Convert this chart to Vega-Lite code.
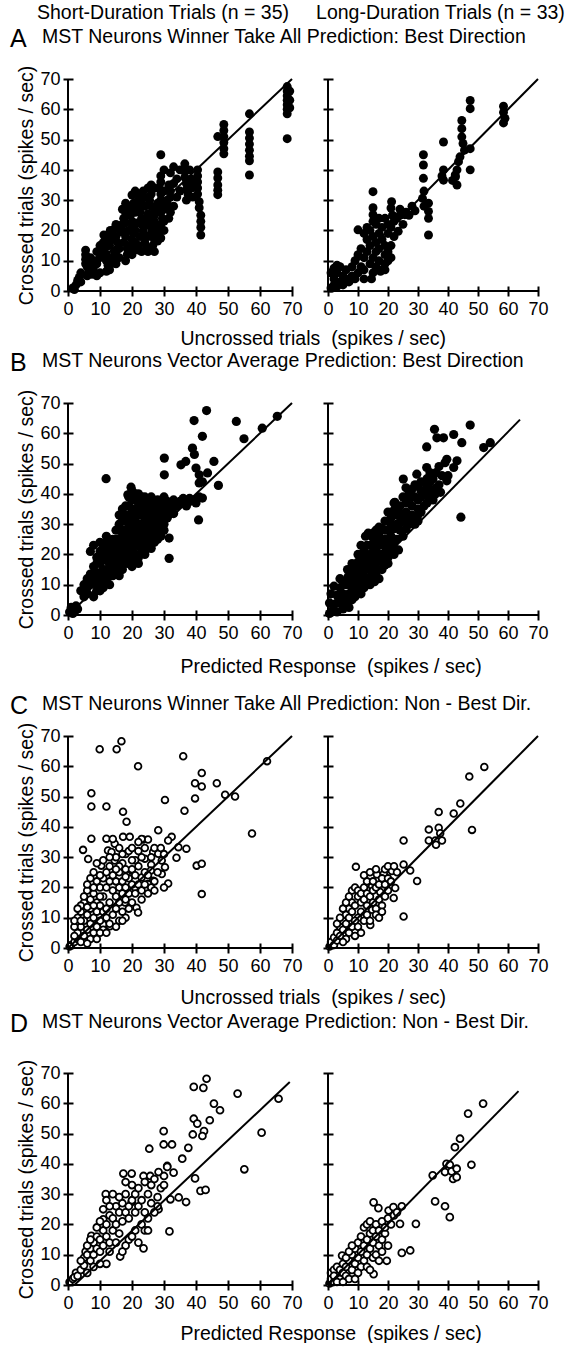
{
"$schema":"https://vega.github.io/schema/vega-lite/v6.json",
"background":"white",
"padding":{"left":10,"top":3,"right":0,"bottom":0},
"config":{
 "font":"Liberation Sans",
 "view":{"stroke":null},
 "axis":{"domain":false,"grid":false,"tickSize":10,"tickWidth":2,"tickColor":"black","tickCount":7,"offset":-5,"labelFontSize":18,"labelColor":"black","labelFlush":false,"labelOverlap":false,"titleFontSize":19.5,"titleFontWeight":"normal","titleColor":"black","labelFont":"Liberation Sans","titleFont":"Liberation Sans"},
 "axisX":{"labelPadding":4,"titlePadding":13},
 "axisY":{"labelPadding":3,"titlePadding":3},
 "title":{"fontSize":25,"fontWeight":"normal","color":"black","anchor":"start","frame":"group","font":"Liberation Sans"}
},
"title":{"text":"Short-Duration Trials (n = 35)\u00a0\u00a0\u00a0\u00a0\u00a0Long-Duration Trials (n = 33)","fontSize":19.5,"anchor":"start","frame":"group","dx":-31,"offset":3},
"datasets":{
"a1":[{"x":1.5,"y":1},{"x":2.5,"y":2},{"x":3,"y":3.5},{"x":3.5,"y":4.5},{"x":4,"y":3},{"x":2,"y":0.5},{"x":5.5,"y":13.5},{"x":5.5,"y":12},{"x":5.5,"y":10.5},{"x":5.5,"y":9},{"x":6,"y":8},{"x":7,"y":11},{"x":7.5,"y":9.5},{"x":8,"y":8},{"x":8,"y":6.5},{"x":7.5,"y":5.5},{"x":8.5,"y":10},{"x":6.5,"y":7},{"x":11.2,"y":18.5},{"x":11,"y":16},{"x":11.5,"y":14},{"x":11,"y":12},{"x":12,"y":10},{"x":12.5,"y":8.5},{"x":13,"y":7},{"x":12,"y":6.5},{"x":13.5,"y":9},{"x":14,"y":11},{"x":14.5,"y":13},{"x":13,"y":15},{"x":13.2,"y":20},{"x":14.5,"y":20.5},{"x":15,"y":18},{"x":15.5,"y":16},{"x":16,"y":14},{"x":15,"y":13},{"x":16.5,"y":19.5},{"x":17.4,"y":24},{"x":17,"y":22},{"x":17,"y":20},{"x":18,"y":18},{"x":17.5,"y":16},{"x":18.5,"y":14},{"x":18.5,"y":12},{"x":19,"y":13},{"x":18,"y":22.5},{"x":20,"y":31.7},{"x":20.5,"y":29},{"x":20,"y":27},{"x":19.5,"y":25},{"x":20,"y":23},{"x":20,"y":21},{"x":20.5,"y":19},{"x":20,"y":17},{"x":19.5,"y":15},{"x":21,"y":14},{"x":22,"y":13.5},{"x":21,"y":16},{"x":23.5,"y":33},{"x":23,"y":30},{"x":24,"y":28},{"x":22.5,"y":26},{"x":23,"y":24},{"x":24,"y":22},{"x":23.5,"y":20},{"x":22.5,"y":18},{"x":24,"y":16},{"x":24.5,"y":14.5},{"x":23,"y":13},{"x":21.5,"y":22.5},{"x":22,"y":27.5},{"x":25.5,"y":30},{"x":26,"y":28},{"x":27,"y":27},{"x":26,"y":25},{"x":27,"y":23},{"x":26,"y":21},{"x":27.5,"y":19},{"x":27,"y":17},{"x":26.5,"y":15},{"x":28,"y":16.5},{"x":25,"y":18},{"x":25,"y":25.5},{"x":29,"y":45},{"x":29,"y":38},{"x":29,"y":36},{"x":28.5,"y":34},{"x":29,"y":32},{"x":29,"y":30},{"x":29.5,"y":28},{"x":29,"y":26},{"x":29.5,"y":24},{"x":29,"y":22},{"x":28,"y":21},{"x":29,"y":17.5},{"x":32,"y":39},{"x":31.5,"y":35},{"x":32,"y":33},{"x":32,"y":31},{"x":31.5,"y":28},{"x":32,"y":26},{"x":31.5,"y":24},{"x":33,"y":35.5},{"x":36.5,"y":42},{"x":36.5,"y":39.5},{"x":36.5,"y":37.5},{"x":37,"y":35.5},{"x":37,"y":33.5},{"x":37.5,"y":32},{"x":38.5,"y":37},{"x":38.5,"y":34},{"x":39,"y":31},{"x":40.5,"y":40},{"x":40.5,"y":38},{"x":40.5,"y":36},{"x":40.5,"y":34},{"x":40.5,"y":32},{"x":41,"y":29.5},{"x":41,"y":27.5},{"x":41.5,"y":25},{"x":41.5,"y":23},{"x":41.5,"y":21},{"x":41.5,"y":18.5},{"x":46.8,"y":51},{"x":46.8,"y":39.3},{"x":46.8,"y":37.3},{"x":46.8,"y":35},{"x":46.8,"y":33.3},{"x":46.8,"y":31.8},{"x":48.7,"y":55},{"x":48.7,"y":53},{"x":48.7,"y":51},{"x":48.7,"y":49},{"x":48.7,"y":47},{"x":48.7,"y":45.3},{"x":56.7,"y":58.5},{"x":56.7,"y":52.5},{"x":56.7,"y":50.5},{"x":56.7,"y":48.5},{"x":56.7,"y":46.5},{"x":56.7,"y":44.5},{"x":56.7,"y":43},{"x":56.7,"y":38.3},{"x":68.5,"y":67.5},{"x":68.5,"y":66},{"x":68.5,"y":64.5},{"x":68.5,"y":63},{"x":68.5,"y":61.5},{"x":68.5,"y":60},{"x":68.5,"y":58.5},{"x":68.5,"y":50.3},{"x":69.3,"y":66},{"x":69.3,"y":63},{"x":69.3,"y":60.5},{"x":9,"y":9},{"x":10,"y":11},{"x":10,"y":13},{"x":12,"y":16},{"x":14,"y":17},{"x":16,"y":21},{"x":18,"y":26},{"x":19,"y":28},{"x":21,"y":26},{"x":22,"y":30},{"x":24,"y":31},{"x":26,"y":32},{"x":27,"y":34},{"x":28,"y":29},{"x":30,"y":27},{"x":30,"y":33},{"x":31,"y":30},{"x":33,"y":28},{"x":34,"y":31},{"x":35,"y":33},{"x":34,"y":37},{"x":35,"y":40},{"x":38,"y":40},{"x":39,"y":35},{"x":16,"y":11},{"x":18,"y":10},{"x":20,"y":12},{"x":22,"y":15},{"x":24,"y":18},{"x":26,"y":19},{"x":28,"y":19},{"x":30,"y":20},{"x":30,"y":23},{"x":27,"y":13},{"x":25,"y":13},{"x":15,"y":9},{"x":10,"y":6},{"x":9,"y":5},{"x":6,"y":5},{"x":4,"y":6},{"x":19,"y":20},{"x":21,"y":20},{"x":23,"y":22},{"x":25,"y":23},{"x":27,"y":25},{"x":28,"y":27},{"x":17,"y":27},{"x":18,"y":29},{"x":21,"y":33},{"x":22,"y":32},{"x":25,"y":34},{"x":26,"y":35},{"x":30,"y":40},{"x":33,"y":41},{"x":37,"y":30},{"x":15,"y":22},{"x":13,"y":18},{"x":12,"y":12},{"x":9,"y":13},{"x":10,"y":15}],
"a2":[{"x":47.4,"y":62.9},{"x":47.4,"y":60.2},{"x":58.5,"y":61},{"x":58.5,"y":59},{"x":59,"y":57},{"x":58.5,"y":55.5},{"x":44.6,"y":56.3},{"x":44.6,"y":53.6},{"x":44.6,"y":50.9},{"x":45,"y":48.7},{"x":45.5,"y":46.5},{"x":44,"y":44.3},{"x":43.5,"y":42.7},{"x":43,"y":40},{"x":42.5,"y":37.7},{"x":43,"y":35},{"x":47.4,"y":47},{"x":47.4,"y":40},{"x":38.5,"y":49.2},{"x":38.5,"y":40},{"x":38,"y":38},{"x":38.5,"y":36.6},{"x":42.4,"y":38.3},{"x":41.5,"y":36.5},{"x":31.8,"y":45},{"x":31.8,"y":41.6},{"x":31.8,"y":37.2},{"x":32,"y":33},{"x":31.5,"y":30.6},{"x":32,"y":28},{"x":33.5,"y":29},{"x":33.5,"y":26.3},{"x":33.5,"y":24},{"x":33.5,"y":18.5},{"x":28,"y":28},{"x":29,"y":26.5},{"x":27,"y":25},{"x":21.2,"y":29.5},{"x":21,"y":27.4},{"x":21.5,"y":25},{"x":15,"y":32.8},{"x":15,"y":27.5},{"x":15,"y":25.2},{"x":10,"y":20.2},{"x":1,"y":1},{"x":2,"y":2},{"x":3,"y":1.5},{"x":2,"y":4},{"x":3,"y":6},{"x":2,"y":7.5},{"x":4,"y":3},{"x":5,"y":2},{"x":5,"y":5},{"x":6,"y":4},{"x":4,"y":8},{"x":6,"y":7},{"x":7,"y":3},{"x":8,"y":5},{"x":9,"y":4},{"x":10,"y":6},{"x":8,"y":8},{"x":9,"y":10},{"x":11,"y":8},{"x":12,"y":7},{"x":12,"y":11},{"x":10,"y":12},{"x":13,"y":13},{"x":11,"y":14},{"x":14,"y":9},{"x":15,"y":11},{"x":16,"y":13},{"x":14,"y":15},{"x":13,"y":17},{"x":15,"y":18},{"x":16,"y":16},{"x":17,"y":19},{"x":18,"y":17},{"x":17,"y":14},{"x":19,"y":15},{"x":19,"y":12},{"x":17,"y":10},{"x":16,"y":8},{"x":18,"y":21},{"x":20,"y":19},{"x":20,"y":22},{"x":19,"y":24},{"x":21,"y":21},{"x":22,"y":23},{"x":23,"y":24},{"x":24,"y":25},{"x":25,"y":22},{"x":22,"y":18},{"x":21,"y":15},{"x":20,"y":13},{"x":18,"y":7},{"x":15,"y":6},{"x":12,"y":4},{"x":16,"y":22},{"x":14,"y":20},{"x":12,"y":19},{"x":13,"y":21},{"x":17,"y":24},{"x":15,"y":23},{"x":26,"y":26},{"x":24,"y":27},{"x":19,"y":9},{"x":20,"y":10},{"x":21,"y":11},{"x":14.5,"y":4},{"x":17.5,"y":6.5},{"x":19,"y":7},{"x":25.6,"y":25.2},{"x":23.4,"y":19.7},{"x":1,"y":6},{"x":3,"y":8.5}],
"b1":[{"x":43.3,"y":67.5},{"x":39.4,"y":64.2},{"x":52.6,"y":63.9},{"x":65.4,"y":65.6},{"x":60.7,"y":61.7},{"x":55,"y":58.2},{"x":42,"y":59},{"x":38.9,"y":55.1},{"x":39.5,"y":53},{"x":30.1,"y":51.8},{"x":30.1,"y":46.3},{"x":35.3,"y":49.6},{"x":36.8,"y":50.7},{"x":40,"y":48.5},{"x":41,"y":46.3},{"x":43.6,"y":46.9},{"x":45.6,"y":50.7},{"x":41,"y":43.6},{"x":42,"y":44},{"x":47,"y":42.8},{"x":40.8,"y":31.4},{"x":42,"y":38.6},{"x":39.7,"y":38},{"x":31.6,"y":25.4},{"x":31.6,"y":18.7},{"x":11.9,"y":45},{"x":19.7,"y":42.2},{"x":18.7,"y":39.7},{"x":22.3,"y":38.2},{"x":25,"y":37},{"x":28,"y":36},{"x":31,"y":37.5},{"x":33,"y":38},{"x":35,"y":37.5},{"x":36,"y":37},{"x":38,"y":37.5},{"x":30,"y":36.5},{"x":32,"y":35},{"x":33,"y":33.5},{"x":0.5,"y":1},{"x":1,"y":2.5},{"x":2,"y":1},{"x":2.5,"y":3},{"x":1.5,"y":0.5},{"x":3,"y":2},{"x":4,"y":8},{"x":5,"y":10},{"x":6,"y":12},{"x":7,"y":13.5},{"x":7,"y":21},{"x":8,"y":23},{"x":10,"y":24},{"x":13,"y":24},{"x":15,"y":28},{"x":16,"y":33},{"x":17,"y":35},{"x":19,"y":39},{"x":20,"y":41},{"x":22,"y":40},{"x":24,"y":39},{"x":26,"y":37},{"x":10,"y":8},{"x":13,"y":10},{"x":16,"y":13},{"x":20,"y":16},{"x":22,"y":17},{"x":24,"y":20},{"x":27,"y":24},{"x":29,"y":26},{"x":30,"y":28},{"x":6,"y":7},{"x":7,"y":10},{"x":8,"y":12},{"x":8,"y":16},{"x":9,"y":19},{"x":9,"y":14},{"x":10,"y":11},{"x":10,"y":17},{"x":10,"y":21},{"x":11,"y":13},{"x":11,"y":19},{"x":12,"y":15},{"x":12,"y":22},{"x":12,"y":18},{"x":13,"y":13},{"x":13,"y":20},{"x":14,"y":16},{"x":14,"y":23},{"x":14,"y":19},{"x":15,"y":21},{"x":15,"y":25},{"x":16,"y":18},{"x":16,"y":23},{"x":16,"y":28},{"x":17,"y":20},{"x":17,"y":26},{"x":17,"y":31},{"x":18,"y":22},{"x":18,"y":28},{"x":18,"y":33},{"x":19,"y":17},{"x":19,"y":25},{"x":19,"y":30},{"x":20,"y":20},{"x":20,"y":27},{"x":20,"y":35},{"x":21,"y":23},{"x":21,"y":31},{"x":22,"y":28},{"x":22,"y":25},{"x":22,"y":35},{"x":23,"y":21},{"x":23,"y":30},{"x":24,"y":27},{"x":24,"y":33},{"x":25,"y":25},{"x":25,"y":31},{"x":26,"y":29},{"x":26,"y":34},{"x":27,"y":27},{"x":27,"y":32},{"x":28,"y":30},{"x":28,"y":25},{"x":29,"y":33},{"x":29,"y":29},{"x":21,"y":38},{"x":18,"y":36},{"x":23,"y":37},{"x":14,"y":13},{"x":11,"y":9},{"x":9,"y":8},{"x":8,"y":6},{"x":5,"y":6},{"x":12,"y":26},{"x":18,"y":19},{"x":24,"y":23},{"x":26,"y":22},{"x":5,"y":8},{"x":6,"y":9},{"x":7,"y":11},{"x":8,"y":13},{"x":9,"y":10},{"x":9,"y":17},{"x":10,"y":13},{"x":10,"y":19},{"x":11,"y":11},{"x":11,"y":15},{"x":11,"y":21},{"x":11,"y":23},{"x":12,"y":11},{"x":12,"y":13},{"x":12,"y":20},{"x":12,"y":24},{"x":13,"y":15},{"x":13,"y":17},{"x":13,"y":22},{"x":14,"y":14},{"x":14,"y":18},{"x":14,"y":21},{"x":14,"y":25},{"x":15,"y":15},{"x":15,"y":17},{"x":15,"y":19},{"x":15,"y":23},{"x":16,"y":16},{"x":16,"y":20},{"x":16,"y":25},{"x":16,"y":30},{"x":17,"y":15},{"x":17,"y":18},{"x":17,"y":22},{"x":17,"y":24},{"x":17,"y":28},{"x":17,"y":33},{"x":18,"y":17},{"x":18,"y":20},{"x":18,"y":24},{"x":18,"y":26},{"x":18,"y":31},{"x":19,"y":19},{"x":19,"y":21},{"x":19,"y":23},{"x":19,"y":27},{"x":19,"y":33},{"x":19,"y":36},{"x":20,"y":18},{"x":20,"y":22},{"x":20,"y":25},{"x":20,"y":29},{"x":20,"y":31},{"x":20,"y":38},{"x":21,"y":20},{"x":21,"y":25},{"x":21,"y":27},{"x":21,"y":29},{"x":21,"y":33},{"x":21,"y":35},{"x":22,"y":19},{"x":22,"y":23},{"x":22,"y":30},{"x":22,"y":33},{"x":22,"y":37},{"x":23,"y":23},{"x":23,"y":25},{"x":23,"y":27},{"x":23,"y":33},{"x":23,"y":35},{"x":24,"y":21},{"x":24,"y":25},{"x":24,"y":29},{"x":24,"y":31},{"x":24,"y":36},{"x":25,"y":27},{"x":25,"y":29},{"x":25,"y":33},{"x":25,"y":35},{"x":26,"y":24},{"x":26,"y":26},{"x":26,"y":31},{"x":26,"y":36},{"x":27,"y":26},{"x":27,"y":29},{"x":27,"y":34},{"x":28,"y":27},{"x":28,"y":32},{"x":28,"y":34},{"x":29,"y":27},{"x":29,"y":31},{"x":29,"y":35},{"x":30,"y":30},{"x":30,"y":32},{"x":30,"y":34},{"x":31,"y":32},{"x":31,"y":34},{"x":27,"y":36},{"x":25,"y":38},{"x":23,"y":39},{"x":21,"y":40},{"x":34,"y":36},{"x":36,"y":38.5},{"x":37,"y":36},{"x":38,"y":38.5},{"x":40,"y":37},{"x":41,"y":39},{"x":28,"y":38},{"x":30,"y":39},{"x":26,"y":39},{"x":32,"y":37}],
"b2":[{"x":47.4,"y":62.7},{"x":35.5,"y":61.3},{"x":41.9,"y":59.6},{"x":36.3,"y":58.5},{"x":38.5,"y":58.5},{"x":32.9,"y":55.5},{"x":44.6,"y":56.9},{"x":51.9,"y":55.3},{"x":54.1,"y":56.9},{"x":39.6,"y":51.4},{"x":39,"y":50.3},{"x":43,"y":50.9},{"x":41.9,"y":48.7},{"x":39.6,"y":44.3},{"x":32.9,"y":48.7},{"x":34,"y":47},{"x":29.6,"y":46.5},{"x":25.1,"y":44.9},{"x":22.3,"y":37.2},{"x":44.3,"y":32.3},{"x":35.7,"y":39.9},{"x":13.4,"y":27},{"x":34,"y":44},{"x":36,"y":42},{"x":37.5,"y":40.5},{"x":33,"y":42.5},{"x":31,"y":41},{"x":29,"y":43},{"x":27,"y":40},{"x":30,"y":38},{"x":33,"y":37},{"x":26,"y":42},{"x":28,"y":41.5},{"x":30,"y":42.5},{"x":32,"y":41},{"x":34,"y":41.5},{"x":22,"y":37},{"x":24,"y":36},{"x":26,"y":37},{"x":28,"y":36},{"x":30,"y":35},{"x":32,"y":36},{"x":19,"y":31},{"x":21,"y":32},{"x":23,"y":30},{"x":25,"y":31},{"x":27,"y":30},{"x":29,"y":30},{"x":12.5,"y":26},{"x":15,"y":25.5},{"x":17,"y":26},{"x":19,"y":25},{"x":21,"y":26},{"x":23,"y":25},{"x":25,"y":26},{"x":10,"y":20},{"x":12,"y":21},{"x":14,"y":20},{"x":16,"y":19.5},{"x":18,"y":20},{"x":20,"y":19},{"x":22,"y":20},{"x":23.5,"y":21.5},{"x":6.5,"y":15},{"x":8,"y":14},{"x":10,"y":15},{"x":12,"y":14.5},{"x":14,"y":15},{"x":16,"y":14},{"x":18,"y":15},{"x":19,"y":16.5},{"x":2,"y":9.5},{"x":4,"y":9},{"x":6,"y":10},{"x":8,"y":9},{"x":10,"y":9.5},{"x":12,"y":9},{"x":14,"y":10},{"x":15.5,"y":11},{"x":0.5,"y":4},{"x":2,"y":3.5},{"x":4,"y":4},{"x":6,"y":4.5},{"x":8,"y":5},{"x":9,"y":6},{"x":0.5,"y":0.5},{"x":1.5,"y":1.5},{"x":3,"y":1},{"x":5,"y":2},{"x":7,"y":2.5},{"x":4,"y":12},{"x":6.7,"y":12.6},{"x":9,"y":12},{"x":11,"y":12.5},{"x":13,"y":12},{"x":15,"y":12.5},{"x":17,"y":12},{"x":8,"y":17},{"x":10,"y":17.5},{"x":12,"y":17.5},{"x":14,"y":17},{"x":16,"y":17.5},{"x":18,"y":17.5},{"x":20,"y":17},{"x":11,"y":23},{"x":13,"y":23},{"x":15,"y":22.5},{"x":17,"y":23},{"x":19,"y":22.5},{"x":21,"y":23},{"x":22,"y":24},{"x":16,"y":28},{"x":18,"y":28.5},{"x":20,"y":28},{"x":22,"y":28.5},{"x":24,"y":28},{"x":26,"y":28.5},{"x":20,"y":34},{"x":22,"y":34.5},{"x":24,"y":33.5},{"x":26,"y":34},{"x":28,"y":33},{"x":30,"y":33},{"x":1,"y":7},{"x":3,"y":6.5},{"x":5,"y":7},{"x":7,"y":7},{"x":9,"y":7.5},{"x":11,"y":7},{"x":24,"y":30.5},{"x":26,"y":32},{"x":28,"y":31.5},{"x":30,"y":31},{"x":31,"y":34},{"x":27,"y":38},{"x":29,"y":39},{"x":31,"y":39},{"x":33,"y":39.5},{"x":35,"y":38},{"x":25,"y":39},{"x":23,"y":33},{"x":21,"y":30},{"x":19,"y":28},{"x":17,"y":29},{"x":15,"y":27},{"x":14,"y":23},{"x":16,"y":24},{"x":18,"y":24},{"x":20,"y":24.5},{"x":22,"y":22},{"x":20,"y":21},{"x":18,"y":19},{"x":16,"y":21.5},{"x":14,"y":18.5},{"x":12,"y":19},{"x":10,"y":13},{"x":12,"y":11},{"x":14,"y":12.5},{"x":16,"y":15.5},{"x":13,"y":15.5},{"x":11,"y":16},{"x":9,"y":16},{"x":7,"y":11},{"x":5,"y":11},{"x":3,"y":4},{"x":5,"y":5.5},{"x":7,"y":5},{"x":9,"y":10},{"x":11,"y":10.5},{"x":13,"y":10.5},{"x":37,"y":43},{"x":38,"y":46},{"x":36,"y":47},{"x":35,"y":45},{"x":31,"y":44},{"x":33,"y":45},{"x":37,"y":49},{"x":40,"y":46}],
"c1":[{"x":9.9,"y":65.6},{"x":15.2,"y":65.6},{"x":16.7,"y":68.3},{"x":21.9,"y":60},{"x":36,"y":63.3},{"x":41.8,"y":57.8},{"x":39.7,"y":54.4},{"x":41.8,"y":53.3},{"x":39.7,"y":49.4},{"x":46.5,"y":54.4},{"x":49.1,"y":50.6},{"x":52.2,"y":50},{"x":62.2,"y":61.7},{"x":57.5,"y":37.8},{"x":30.3,"y":48.9},{"x":36.4,"y":45.3},{"x":7.3,"y":51.1},{"x":7.3,"y":46.7},{"x":12,"y":46.7},{"x":17.2,"y":45},{"x":18.3,"y":41.7},{"x":7.3,"y":36.1},{"x":12,"y":36.1},{"x":12.5,"y":32.2},{"x":17.2,"y":36.7},{"x":19.3,"y":36.7},{"x":23.5,"y":35.8},{"x":25,"y":35.8},{"x":28.2,"y":38.9},{"x":32.4,"y":36.7},{"x":31.3,"y":35.5},{"x":37,"y":32.8},{"x":33.9,"y":29.8},{"x":40.2,"y":27.2},{"x":41.8,"y":27.8},{"x":41.8,"y":17.8},{"x":31.3,"y":21.3},{"x":4.7,"y":32.4},{"x":6.3,"y":29.4},{"x":14.6,"y":34.4},{"x":13.6,"y":31.7},{"x":14.6,"y":28.9},{"x":10.4,"y":27.2},{"x":26.6,"y":31.7},{"x":28.2,"y":31.1},{"x":29.3,"y":28.9},{"x":30.3,"y":26.7},{"x":29.3,"y":24.4},{"x":26.6,"y":22.2},{"x":25,"y":21.1},{"x":19.9,"y":25.6},{"x":23,"y":23.3},{"x":20.9,"y":20},{"x":21.4,"y":13.3},{"x":21.9,"y":11.7},{"x":17.8,"y":15},{"x":13.1,"y":7.2},{"x":11,"y":7.8},{"x":24,"y":29.5},{"x":26,"y":27.5},{"x":34.5,"y":33.3},{"x":25.9,"y":25.6},{"x":1,"y":1},{"x":2,"y":2},{"x":0.5,"y":0.5},{"x":3,"y":3},{"x":4,"y":2},{"x":3,"y":5},{"x":5,"y":4},{"x":4,"y":7},{"x":6,"y":6},{"x":5,"y":9},{"x":7,"y":8},{"x":6,"y":11},{"x":8,"y":10},{"x":4,"y":12},{"x":3,"y":10},{"x":2,"y":7},{"x":7,"y":13},{"x":9,"y":12},{"x":5,"y":15},{"x":7,"y":16},{"x":9,"y":15},{"x":10,"y":14},{"x":11,"y":12},{"x":12,"y":10},{"x":10,"y":9},{"x":9,"y":7},{"x":8,"y":5},{"x":11,"y":6},{"x":13,"y":8},{"x":12,"y":13},{"x":13,"y":15},{"x":11,"y":17},{"x":8,"y":18},{"x":6,"y":19},{"x":6,"y":21},{"x":7,"y":23},{"x":9,"y":22},{"x":10,"y":20},{"x":12,"y":20},{"x":14,"y":19},{"x":13,"y":22},{"x":11,"y":23},{"x":8,"y":20},{"x":15,"y":17},{"x":16,"y":20},{"x":15,"y":22},{"x":14,"y":24},{"x":16,"y":25},{"x":17,"y":22},{"x":18,"y":20},{"x":17,"y":18},{"x":16,"y":15},{"x":18,"y":16},{"x":19,"y":18},{"x":20,"y":21},{"x":19,"y":23},{"x":18,"y":26},{"x":17,"y":28},{"x":16,"y":27},{"x":20,"y":26},{"x":21,"y":24},{"x":22,"y":21},{"x":23,"y":19},{"x":21,"y":18},{"x":20,"y":15},{"x":14,"y":11},{"x":15,"y":13},{"x":17,"y":12},{"x":18,"y":10},{"x":16,"y":9},{"x":5,"y":17},{"x":4,"y":14},{"x":10,"y":24},{"x":12,"y":25},{"x":13,"y":27},{"x":15,"y":26},{"x":21,"y":29},{"x":22,"y":27},{"x":24,"y":25},{"x":23,"y":30},{"x":26,"y":20},{"x":27,"y":22},{"x":25,"y":18},{"x":28,"y":25},{"x":24,"y":33},{"x":23,"y":36},{"x":30,"y":20},{"x":15,"y":30},{"x":16,"y":33},{"x":18,"y":31},{"x":20,"y":29},{"x":19,"y":32},{"x":22,"y":32},{"x":10,"y":5},{"x":7,"y":3},{"x":6,"y":1.5},{"x":2,"y":4},{"x":9,"y":3},{"x":8,"y":25},{"x":9,"y":28},{"x":11,"y":29},{"x":13,"y":30},{"x":17,"y":31},{"x":14,"y":36},{"x":20,"y":33},{"x":22,"y":35},{"x":26,"y":30},{"x":27,"y":33},{"x":29,"y":33},{"x":30,"y":31},{"x":25,"y":24},{"x":27,"y":19},{"x":23,"y":16},{"x":24,"y":21},{"x":19,"y":13},{"x":17,"y":9},{"x":15,"y":7},{"x":12,"y":5},{"x":18,"y":23.5},{"x":3,"y":13},{"x":2,"y":9},{"x":10,"y":17},{"x":8,"y":14},{"x":6,"y":13.5},{"x":4,"y":9}],
"c2":[{"x":52.1,"y":59.8},{"x":47.1,"y":56.6},{"x":44.1,"y":47.7},{"x":41.9,"y":44.4},{"x":48,"y":39},{"x":36.9,"y":44.9},{"x":33.6,"y":39.1},{"x":36.9,"y":39.7},{"x":37.4,"y":37.9},{"x":33.6,"y":35.5},{"x":35.8,"y":35.5},{"x":38,"y":35.5},{"x":36,"y":34.1},{"x":25.2,"y":35.5},{"x":9.3,"y":26.8},{"x":25.2,"y":27.6},{"x":27.4,"y":25.6},{"x":29.7,"y":22.1},{"x":25.2,"y":10.4},{"x":21.3,"y":25.4},{"x":22.4,"y":19.8},{"x":21.9,"y":16.5},{"x":16.3,"y":24.3},{"x":18.6,"y":24.5},{"x":14.7,"y":20.4},{"x":17.4,"y":18.5},{"x":14.1,"y":7.6},{"x":14.7,"y":12.6},{"x":0.5,"y":0.5},{"x":1,"y":2},{"x":2,"y":1},{"x":2,"y":3.5},{"x":3,"y":2.5},{"x":3,"y":5},{"x":4,"y":4},{"x":4,"y":7},{"x":5,"y":6},{"x":5,"y":9},{"x":6,"y":8},{"x":6,"y":11},{"x":7,"y":10},{"x":7,"y":13},{"x":8,"y":12},{"x":8,"y":15},{"x":9,"y":14},{"x":8,"y":19},{"x":9,"y":20},{"x":10,"y":19},{"x":10,"y":17},{"x":11,"y":15},{"x":11,"y":18},{"x":12,"y":20},{"x":12,"y":16},{"x":13,"y":14},{"x":13,"y":18},{"x":14,"y":17},{"x":15,"y":15},{"x":15,"y":19},{"x":16,"y":20},{"x":16,"y":13},{"x":17,"y":16},{"x":18,"y":14},{"x":19,"y":17},{"x":20,"y":19},{"x":11,"y":12},{"x":10,"y":10},{"x":9,"y":9},{"x":8,"y":7},{"x":7,"y":5},{"x":6,"y":3},{"x":5,"y":2},{"x":9,"y":4},{"x":10,"y":7},{"x":12,"y":9},{"x":13,"y":11},{"x":14,"y":9},{"x":11,"y":5},{"x":3,"y":8},{"x":4,"y":10},{"x":5,"y":13},{"x":6,"y":15},{"x":7,"y":17},{"x":13,"y":22},{"x":15,"y":22},{"x":17,"y":21},{"x":19,"y":21},{"x":18,"y":23},{"x":20,"y":23},{"x":21,"y":22},{"x":16,"y":11},{"x":17,"y":10},{"x":18,"y":12},{"x":12,"y":24},{"x":14,"y":25},{"x":16,"y":26},{"x":19,"y":26},{"x":20,"y":27},{"x":23,"y":25},{"x":22,"y":27}],
"d1":[{"x":43.3,"y":68.1},{"x":39.3,"y":65.4},{"x":42.3,"y":65.1},{"x":53,"y":63.2},{"x":65.8,"y":61.5},{"x":45.6,"y":59.9},{"x":47.5,"y":57.7},{"x":44.3,"y":54.4},{"x":39.3,"y":54.9},{"x":40.4,"y":53.3},{"x":39,"y":49.7},{"x":42.5,"y":50.8},{"x":42,"y":49.2},{"x":60.5,"y":50.3},{"x":55.1,"y":38.2},{"x":29.9,"y":50.8},{"x":29.9,"y":46.4},{"x":32.5,"y":46.4},{"x":25.4,"y":45},{"x":37.6,"y":45.3},{"x":35.7,"y":41.7},{"x":31,"y":39.3},{"x":33,"y":37.1},{"x":28.3,"y":37.3},{"x":39.7,"y":35.2},{"x":41.4,"y":31.1},{"x":43,"y":31.4},{"x":32,"y":28.3},{"x":34.6,"y":28.9},{"x":36.9,"y":27.4},{"x":31.7,"y":17.7},{"x":28.3,"y":25},{"x":16.3,"y":9.4},{"x":23.6,"y":12.1},{"x":11.8,"y":30},{"x":17.3,"y":36.8},{"x":19.9,"y":36.8},{"x":19.9,"y":27.4},{"x":23.6,"y":36},{"x":25.7,"y":36},{"x":7.3,"y":16.2},{"x":11,"y":21.7},{"x":0.5,"y":1},{"x":1.5,"y":2},{"x":2.5,"y":4},{"x":2,"y":2.5},{"x":3,"y":3},{"x":4,"y":5},{"x":5,"y":6.5},{"x":5,"y":9},{"x":5.5,"y":11},{"x":6,"y":10},{"x":7,"y":8},{"x":7,"y":12},{"x":8,"y":10},{"x":8,"y":14},{"x":9,"y":12},{"x":9,"y":16},{"x":10,"y":11},{"x":10,"y":15},{"x":11,"y":13},{"x":11,"y":18},{"x":12,"y":20},{"x":12,"y":16},{"x":13,"y":23},{"x":13,"y":14},{"x":14,"y":18},{"x":14,"y":22},{"x":15,"y":20},{"x":15,"y":26},{"x":16,"y":24},{"x":16,"y":17},{"x":17,"y":21},{"x":17,"y":27},{"x":18,"y":24},{"x":18,"y":30},{"x":19,"y":26},{"x":19,"y":22},{"x":20,"y":28},{"x":20,"y":33},{"x":21,"y":24},{"x":21,"y":30},{"x":22,"y":26},{"x":22,"y":32},{"x":23,"y":20},{"x":23,"y":28},{"x":24,"y":34},{"x":24,"y":24},{"x":25,"y":30},{"x":25,"y":22},{"x":26,"y":27},{"x":26,"y":33},{"x":27,"y":24},{"x":27,"y":35},{"x":28,"y":29},{"x":29,"y":32},{"x":30,"y":36},{"x":21,"y":18},{"x":19,"y":15},{"x":18,"y":13},{"x":20,"y":16},{"x":22,"y":14},{"x":24,"y":18},{"x":17,"y":11},{"x":15,"y":14},{"x":13,"y":11},{"x":12,"y":7},{"x":10,"y":7},{"x":8,"y":6},{"x":6,"y":4},{"x":4,"y":8},{"x":6,"y":13},{"x":7,"y":15},{"x":9,"y":19},{"x":10,"y":21},{"x":11,"y":25},{"x":12,"y":28},{"x":13,"y":26},{"x":14,"y":30},{"x":16,"y":29},{"x":18,"y":34},{"x":25,"y":18},{"x":28,"y":26},{"x":30,"y":33},{"x":31,"y":39}],
"d2":[{"x":51.7,"y":59.9},{"x":46.7,"y":56.6},{"x":44,"y":48.3},{"x":42.3,"y":45.5},{"x":47.8,"y":39.7},{"x":39.5,"y":40},{"x":40.6,"y":39.7},{"x":39,"y":37.3},{"x":41.2,"y":37.5},{"x":42.9,"y":38.4},{"x":41.7,"y":35},{"x":42.9,"y":35.6},{"x":34.9,"y":36.2},{"x":35.7,"y":27.6},{"x":39,"y":26},{"x":40.6,"y":22.4},{"x":15.2,"y":27.3},{"x":16.8,"y":25.4},{"x":20.2,"y":24.6},{"x":21.8,"y":25.7},{"x":24.6,"y":26},{"x":24,"y":20.2},{"x":29.3,"y":20.2},{"x":24.6,"y":10.6},{"x":27.4,"y":11.4},{"x":19.6,"y":8},{"x":15.2,"y":3.6},{"x":8.3,"y":3.3},{"x":4.7,"y":9.7},{"x":0.5,"y":0.5},{"x":1,"y":2},{"x":1,"y":4},{"x":2,"y":1},{"x":2,"y":5},{"x":3,"y":3},{"x":3,"y":6},{"x":4,"y":2},{"x":4,"y":5},{"x":5,"y":4},{"x":5,"y":7},{"x":6,"y":3},{"x":6,"y":6},{"x":7,"y":2},{"x":7,"y":8},{"x":8,"y":5},{"x":8,"y":10},{"x":9,"y":7},{"x":9,"y":12},{"x":10,"y":9},{"x":10,"y":14},{"x":11,"y":11},{"x":11,"y":16},{"x":12,"y":8},{"x":12,"y":13},{"x":12,"y":19},{"x":13,"y":10},{"x":13,"y":15},{"x":13,"y":20},{"x":14,"y":12},{"x":14,"y":17},{"x":14,"y":21},{"x":15,"y":14},{"x":15,"y":18},{"x":16,"y":16},{"x":16,"y":20},{"x":17,"y":13},{"x":17,"y":18},{"x":18,"y":15},{"x":18,"y":21},{"x":19,"y":17},{"x":19,"y":19},{"x":20,"y":22},{"x":21,"y":20},{"x":22,"y":23},{"x":23,"y":24},{"x":11,"y":6},{"x":10,"y":4},{"x":13,"y":6},{"x":15,"y":9},{"x":16,"y":10},{"x":17,"y":8},{"x":14,"y":5},{"x":18,"y":11},{"x":20,"y":13},{"x":9,"y":2},{"x":6,"y":9},{"x":7,"y":11},{"x":8,"y":13},{"x":2,"y":3},{"x":3,"y":1},{"x":5,"y":1}]
},
"spacing":17,
"vconcat":[
{"spacing":2,"vconcat":[
{"title":{"text":"A","dx":-58,"offset":-25},
 "bounds":"flush","spacing":36,
 "hconcat":[
 {"title":{"text":"MST Neurons Winner Take All Prediction: Best Direction","fontSize":19.5,"dx":-26,"offset":18},
  "width":224,"height":212,
  "encoding":{"x":{"field":"x","type":"quantitative","scale":{"domain":[0,70],"nice":false},"axis":{"title":"Uncrossed trials \u00a0(spikes / sec)","titleX":112,"titleAlign":"left","titleAnchor":"start","titlePadding":11}},"y":{"field":"y","type":"quantitative","scale":{"domain":[0,70],"nice":false},"axis":{"title":"Crossed trials (spikes / sec)"}}},
  "layer":[
  {"data":{"name":"a1"},"mark":{"type":"circle","size":80,"color":"black","opacity":1}},
  {"data":{"values":[{"x":0,"y":0},{"x":70,"y":70}]},"mark":{"type":"line","color":"black","strokeWidth":2}},
  {"data":{"values":[{"x":0,"y":0}]},"mark":{"type":"rule","color":"black","strokeWidth":2},"encoding":{"x2":{"datum":70}}},
  {"data":{"values":[{"x":0,"y":0}]},"mark":{"type":"rule","color":"black","strokeWidth":2},"encoding":{"y2":{"datum":70}}}
 ]},
 {"width":210,"height":212,
  "encoding":{"x":{"field":"x","type":"quantitative","scale":{"domain":[0,70],"nice":false},"axis":{"title":null}},"y":{"field":"y","type":"quantitative","scale":{"domain":[0,70],"nice":false},"axis":{"title":null,"labels":false}}},
  "layer":[
  {"data":{"name":"a2"},"mark":{"type":"circle","size":80,"color":"black","opacity":1}},
  {"data":{"values":[{"x":0,"y":0},{"x":70,"y":70}]},"mark":{"type":"line","color":"black","strokeWidth":2}},
  {"data":{"values":[{"x":0,"y":0}]},"mark":{"type":"rule","color":"black","strokeWidth":2},"encoding":{"x2":{"datum":70}}},
  {"data":{"values":[{"x":0,"y":0}]},"mark":{"type":"rule","color":"black","strokeWidth":2},"encoding":{"y2":{"datum":70}}}
 ]}
 ]},
{"title":{"text":"B","dx":-58,"offset":-25},
 "bounds":"flush","spacing":36,
 "hconcat":[
 {"title":{"text":"MST Neurons Vector Average Prediction: Best Direction","fontSize":19.5,"dx":-26,"offset":18},
  "width":224,"height":212,
  "encoding":{"x":{"field":"x","type":"quantitative","scale":{"domain":[0,70],"nice":false},"axis":{"title":"Predicted Response \u00a0(spikes / sec)","titleX":112,"titleAlign":"left","titleAnchor":"start","titlePadding":15}},"y":{"field":"y","type":"quantitative","scale":{"domain":[0,70],"nice":false},"axis":{"title":"Crossed trials (spikes / sec)"}}},
  "layer":[
  {"data":{"name":"b1"},"mark":{"type":"circle","size":85,"color":"black","opacity":1}},
  {"data":{"values":[{"x":0,"y":0},{"x":70,"y":70}]},"mark":{"type":"line","color":"black","strokeWidth":2}},
  {"data":{"values":[{"x":0,"y":0}]},"mark":{"type":"rule","color":"black","strokeWidth":2},"encoding":{"x2":{"datum":70}}},
  {"data":{"values":[{"x":0,"y":0}]},"mark":{"type":"rule","color":"black","strokeWidth":2},"encoding":{"y2":{"datum":70}}}
 ]},
 {"width":210,"height":212,
  "encoding":{"x":{"field":"x","type":"quantitative","scale":{"domain":[0,70],"nice":false},"axis":{"title":null}},"y":{"field":"y","type":"quantitative","scale":{"domain":[0,70],"nice":false},"axis":{"title":null,"labels":false}}},
  "layer":[
  {"data":{"name":"b2"},"mark":{"type":"circle","size":85,"color":"black","opacity":1}},
  {"data":{"values":[{"x":0,"y":0},{"x":64,"y":64.5}]},"mark":{"type":"line","color":"black","strokeWidth":2}},
  {"data":{"values":[{"x":0,"y":0}]},"mark":{"type":"rule","color":"black","strokeWidth":2},"encoding":{"x2":{"datum":70}}},
  {"data":{"values":[{"x":0,"y":0}]},"mark":{"type":"rule","color":"black","strokeWidth":2},"encoding":{"y2":{"datum":70}}}
 ]}
 ]}
]},
{"spacing":4,"vconcat":[
{"title":{"text":"C","dx":-58,"offset":-25},
 "bounds":"flush","spacing":36,
 "hconcat":[
 {"title":{"text":"MST Neurons Winner Take All Prediction: Non - Best Dir.","fontSize":19.5,"dx":-26,"offset":8},
  "width":224,"height":212,
  "encoding":{"x":{"field":"x","type":"quantitative","scale":{"domain":[0,70],"nice":false},"axis":{"title":"Uncrossed trials \u00a0(spikes / sec)","titleX":112,"titleAlign":"left","titleAnchor":"start","titlePadding":13}},"y":{"field":"y","type":"quantitative","scale":{"domain":[0,70],"nice":false},"axis":{"title":"Crossed trials (spikes / sec)"}}},
  "layer":[
  {"data":{"name":"c1"},"mark":{"type":"point","shape":"circle","size":45,"filled":true,"fill":"white","stroke":"black","strokeWidth":1.8,"opacity":1}},
  {"data":{"values":[{"x":0,"y":0},{"x":70,"y":70}]},"mark":{"type":"line","color":"black","strokeWidth":2}},
  {"data":{"values":[{"x":0,"y":0}]},"mark":{"type":"rule","color":"black","strokeWidth":2},"encoding":{"x2":{"datum":70}}},
  {"data":{"values":[{"x":0,"y":0}]},"mark":{"type":"rule","color":"black","strokeWidth":2},"encoding":{"y2":{"datum":70}}}
 ]},
 {"width":210,"height":212,
  "encoding":{"x":{"field":"x","type":"quantitative","scale":{"domain":[0,70],"nice":false},"axis":{"title":null}},"y":{"field":"y","type":"quantitative","scale":{"domain":[0,70],"nice":false},"axis":{"title":null,"labels":false}}},
  "layer":[
  {"data":{"name":"c2"},"mark":{"type":"point","shape":"circle","size":45,"filled":true,"fill":"white","stroke":"black","strokeWidth":1.8,"opacity":1}},
  {"data":{"values":[{"x":0,"y":0},{"x":70,"y":70}]},"mark":{"type":"line","color":"black","strokeWidth":2}},
  {"data":{"values":[{"x":0,"y":0}]},"mark":{"type":"rule","color":"black","strokeWidth":2},"encoding":{"x2":{"datum":70}}},
  {"data":{"values":[{"x":0,"y":0}]},"mark":{"type":"rule","color":"black","strokeWidth":2},"encoding":{"y2":{"datum":70}}}
 ]}
 ]},
{"title":{"text":"D","dx":-58,"offset":-25},
 "bounds":"flush","spacing":36,
 "hconcat":[
 {"title":{"text":"MST Neurons Vector Average Prediction: Non - Best Dir.","fontSize":19.5,"dx":-26,"offset":27},
  "width":224,"height":212,
  "encoding":{"x":{"field":"x","type":"quantitative","scale":{"domain":[0,70],"nice":false},"axis":{"title":"Predicted Response \u00a0(spikes / sec)","titleX":112,"titleAlign":"left","titleAnchor":"start","titlePadding":12}},"y":{"field":"y","type":"quantitative","scale":{"domain":[0,70],"nice":false},"axis":{"title":"Crossed trials (spikes / sec)"}}},
  "layer":[
  {"data":{"name":"d1"},"mark":{"type":"point","shape":"circle","size":48,"filled":true,"fill":"white","stroke":"black","strokeWidth":1.8,"opacity":1}},
  {"data":{"values":[{"x":2,"y":0},{"x":69.3,"y":67}]},"mark":{"type":"line","color":"black","strokeWidth":2}},
  {"data":{"values":[{"x":0,"y":0}]},"mark":{"type":"rule","color":"black","strokeWidth":2},"encoding":{"x2":{"datum":70}}},
  {"data":{"values":[{"x":0,"y":0}]},"mark":{"type":"rule","color":"black","strokeWidth":2},"encoding":{"y2":{"datum":70}}}
 ]},
 {"width":210,"height":212,
  "encoding":{"x":{"field":"x","type":"quantitative","scale":{"domain":[0,70],"nice":false},"axis":{"title":null}},"y":{"field":"y","type":"quantitative","scale":{"domain":[0,70],"nice":false},"axis":{"title":null,"labels":false}}},
  "layer":[
  {"data":{"name":"d2"},"mark":{"type":"point","shape":"circle","size":48,"filled":true,"fill":"white","stroke":"black","strokeWidth":1.8,"opacity":1}},
  {"data":{"values":[{"x":0,"y":0},{"x":63.5,"y":64}]},"mark":{"type":"line","color":"black","strokeWidth":2}},
  {"data":{"values":[{"x":0,"y":0}]},"mark":{"type":"rule","color":"black","strokeWidth":2},"encoding":{"x2":{"datum":70}}},
  {"data":{"values":[{"x":0,"y":0}]},"mark":{"type":"rule","color":"black","strokeWidth":2},"encoding":{"y2":{"datum":70}}}
 ]}
 ]}
]}
]
}
